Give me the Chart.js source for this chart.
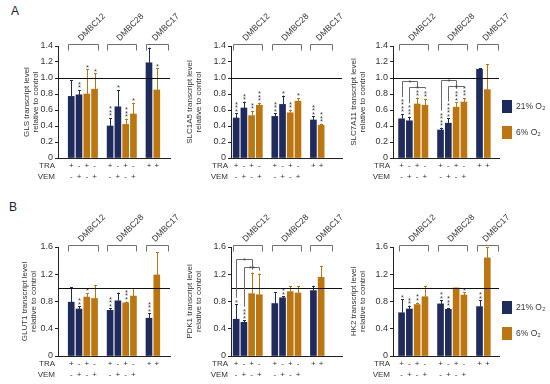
<!DOCTYPE html>
<html><head><meta charset="utf-8">
<script src="https://cdn.jsdelivr.net/npm/chart.js@4"></script>
<style>
body{margin:0;background:#fff;width:550px;height:384px;position:relative;overflow:hidden;font-family:Arial,"Liberation Sans",sans-serif;}
canvas{position:absolute;}
.lab{position:absolute;font-size:12px;line-height:12px;color:#222;}
</style></head><body>
<div class="lab" style="left:11px;top:5px">A</div>
<div class="lab" style="left:9px;top:201px">B</div>
<canvas id="a1"></canvas><canvas id="a2"></canvas><canvas id="a3"></canvas>
<canvas id="b1"></canvas><canvas id="b2"></canvas><canvas id="b3"></canvas>
<script>
// ---------- data ----------
const groups = ['DMBC12','DMBC28','DMBC17'];
const groupSpan = [[0,3],[5,8],[10,12]];
const traRow = ['+','-','+','-','','+','-','+','-','','+','+'];
const vemRow = ['-','+','-','+','','-','+','-','+','','',''];
const oxygen = ['21','21','6','6','','21','21','6','6','','21','6'];
const seriesLabels = ['21% O2','6% O2'];
const seriesKeys = ['21','6'];
const genes = ['GLS','SLC1A5','SLC7A11','GLUT1','PDK1','HK2'];
const ticksA = ['0','0.2','0.4','0.6','0.8','1.0','1.2','1.4'];
const ticksB = ['0','0.2','0.4','0.6','0.8','1.0','1.2','1.4','1.6'];
const ticksPDK1 = ['0','0.2','0.4','0.6','0.8','1','1.2','1.4','1.6'];

const glsValues = [0.77,0.79,0.80,0.86,null,0.40,0.64,0.42,0.55,null,1.19,0.85];
const glsErrors = [0.20,0.06,0.31,0.20,null,0.10,0.21,0.07,0.14,null,0.19,0.27];
const glsStars  = ['','**','*','*','','***','*','***','*','','','*'];

const slc1a5Values = [0.50,0.625,0.53,0.66,null,0.52,0.67,0.565,0.71,null,0.475,0.41];
const slc1a5Errors = [0.06,0.08,0.06,0.03,null,0.04,0.11,0.04,0.04,null,0.045,0.02];
const slc1a5Stars  = ['***','**','**','***','','***','*','**','*','','***','***'];

const slc7a11Values = [0.49,0.465,0.675,0.66,null,0.35,0.435,0.635,0.70,null,1.11,0.855];
const slc7a11Errors = [0.06,0.05,0.08,0.08,null,0.03,0.06,0.06,0.05,null,0.01,0.32];
const slc7a11Stars  = ['****','***','**','**','','****','****','***','***','','',''];
const slc7a11Sig = [[0,2,0.96,'*'],[1,3,0.89,'*'],[5,7,0.97,'*'],[6,8,0.895,'*']];

const glut1Values = [0.79,0.69,0.865,0.845,null,0.67,0.81,0.78,0.88,null,0.555,1.19];
const glut1Errors = [0.22,0.04,0.06,0.19,null,0.03,0.12,0.02,0.12,null,0.07,0.33];
const glut1Stars  = ['','**','*','','','***','','***','','','***',''];

const pdk1Values = [0.54,0.495,0.915,0.90,null,0.77,0.855,0.945,0.925,null,0.96,1.155];
const pdk1Errors = [0.22,0.03,0.31,0.31,null,0.17,0.02,0.08,0.10,null,0.07,0.17];
const pdk1Stars  = ['*','***','','','','','**','','','','',''];
const pdk1Sig = [[0,2,1.42,'*'],[1,3,1.30,'**']];

const hk2Values = [0.635,0.69,0.755,0.87,null,0.765,0.685,1.0,0.895,null,0.725,1.44];
const hk2Errors = [0.20,0.05,0.03,0.16,null,0.05,0.02,0.0,0.04,null,0.09,0.16];
const hk2Stars  = ['*','**','**','','','**','***','','*','','**',''];

// ---------- style / layout ----------
const NAVY = '#1f2b5c';
const ORANGE = '#bb7612';
const BAR_W = 6;
const FONT = 'Arial, "Liberation Sans", sans-serif';

const panels = [
  {id:'a1', gene:genes[0], values:glsValues, errors:glsErrors, stars:glsStars, sig:[], ticks:ticksA, ymax:1.4,
   box:[0,0,180,190], area:[58,46,170,158], xr:[-1.7,12.7], titleX:27, legend:false},
  {id:'a2', gene:genes[1], values:slc1a5Values, errors:slc1a5Errors, stars:slc1a5Stars, sig:[], ticks:ticksA, ymax:1.4,
   box:[180,0,165,190], area:[231,46,342,158], xr:[-0.67,13.7], titleX:190, legend:false},
  {id:'a3', gene:genes[2], values:slc7a11Values, errors:slc7a11Errors, stars:slc7a11Stars, sig:slc7a11Sig, ticks:ticksA, ymax:1.4,
   box:[345,0,205,190], area:[393,46,499,158], xr:[-1.1,12.5], titleX:354, legend:true},
  {id:'b1', gene:genes[3], values:glut1Values, errors:glut1Errors, stars:glut1Stars, sig:[], ticks:ticksB, ymax:1.6,
   box:[0,190,180,194], area:[58,247,170,356], xr:[-1.7,12.7], titleX:25, legend:false},
  {id:'b2', gene:genes[4], values:pdk1Values, errors:pdk1Errors, stars:pdk1Stars, sig:pdk1Sig, ticks:ticksPDK1, ymax:1.6,
   box:[180,190,165,194], area:[231,247,342,356], xr:[-0.67,13.7], titleX:190, legend:false},
  {id:'b3', gene:genes[5], values:hk2Values, errors:hk2Errors, stars:hk2Stars, sig:[], ticks:ticksB, ymax:1.6,
   box:[345,190,205,194], area:[393,247,499,356], xr:[-1.1,12.5], titleX:354, legend:true},
];

const STAR_STEP = 3.5;
function colorFor(i){ return oxygen[i]==='21' ? NAVY : ORANGE; }

function makeDeco(p){
  return {
    id:'deco_'+p.id,
    afterDatasetsDraw(chart){
      const ctx = chart.ctx, xs = chart.scales.x, ys = chart.scales.y, a = chart.chartArea;
      ctx.save();
      const starTop = [];
      p.values.forEach((v,i)=>{
        if (v==null) return;
        const col = colorFor(i);
        const x = Math.round(xs.getPixelForValue(i)) + 0.5;
        const yb = ys.getPixelForValue(v);
        const yt = ys.getPixelForValue(v + p.errors[i]);
        ctx.strokeStyle = col; ctx.lineWidth = 1;
        if (p.errors[i] > 0){
          ctx.beginPath(); ctx.moveTo(x, yb); ctx.lineTo(x, yt);
          ctx.moveTo(x-1.5, Math.round(yt)+0.5); ctx.lineTo(x+1.5, Math.round(yt)+0.5); ctx.stroke();
        }
        ctx.fillStyle = '#454545';
        ctx.font = '7.5px ' + FONT; ctx.textAlign = 'center'; ctx.textBaseline = 'alphabetic';
        const n = p.stars[i].length;
        for (let k=0;k<n;k++){
          const cy = yt - 2 - STAR_STEP*k - STAR_STEP/2;
          ctx.fillText('*', x, cy + 4.2);
        }
        starTop[i] = yt - 2 - STAR_STEP*n - 1;
      });
      const y1 = Math.round(ys.getPixelForValue(1)) + 0.5;
      ctx.strokeStyle = '#111'; ctx.lineWidth = 1;
      ctx.beginPath(); ctx.moveTo(a.left, y1); ctx.lineTo(a.right, y1); ctx.stroke();
      p.sig.forEach(([s,e,lvl,lab])=>{
        const xa = Math.round(xs.getPixelForValue(s))+0.5, xb = Math.round(xs.getPixelForValue(e))+0.5;
        const yl = Math.round(ys.getPixelForValue(lvl))+0.5;
        ctx.strokeStyle = '#6a6a6a'; ctx.lineWidth = 1;
        ctx.beginPath();
        const la = Math.max(starTop[s], yl), lb = Math.max(starTop[e], yl);
        ctx.moveTo(xa, la); ctx.lineTo(xa, yl); ctx.lineTo(xb, yl); ctx.lineTo(xb, lb);
        ctx.stroke();
        ctx.fillStyle = '#454545'; ctx.font = '7.5px ' + FONT; ctx.textAlign = 'center'; ctx.textBaseline = 'alphabetic';
        ctx.fillText(lab, (xa+xb)/2, yl + 3);
      });
      groups.forEach((g,gi)=>{
        const xL = Math.round(xs.getPixelForValue(groupSpan[gi][0]) - BAR_W/2)+0.5;
        const xR = Math.round(xs.getPixelForValue(groupSpan[gi][1]) + BAR_W/2)+0.5;
        const yT = a.top - 2 + 0.5;
        ctx.strokeStyle = '#707070'; ctx.lineWidth = 1;
        ctx.beginPath(); ctx.moveTo(xL, yT+6); ctx.lineTo(xL, yT); ctx.lineTo(xR, yT); ctx.lineTo(xR, yT+6); ctx.stroke();
        ctx.save();
        ctx.translate((xL+xR)/2 - 4, yT - 5);
        ctx.rotate(-Math.PI/4);
        ctx.fillStyle = '#333'; ctx.font = '8.5px ' + FONT; ctx.textAlign = 'left'; ctx.textBaseline = 'middle';
        ctx.fillText(g, 0, 0);
        ctx.restore();
      });
      ctx.fillStyle = '#333'; ctx.font = '8px ' + FONT; ctx.textBaseline = 'middle';
      const yTra = a.bottom + 8, yVem = a.bottom + 19;
      ctx.textAlign = 'right';
      ctx.fillText('TRA', a.left - 3, yTra);
      ctx.fillText('VEM', a.left - 3, yVem);
      ctx.textAlign = 'center';
      traRow.forEach((s,i)=>{ if(s) ctx.fillText(s, xs.getPixelForValue(i), yTra); });
      vemRow.forEach((s,i)=>{ if(s) ctx.fillText(s, xs.getPixelForValue(i), yVem); });
      if (p.legend){
        chart.data.datasets.forEach((d,j)=>{
          const sx = a.right + 3, sy = a.top + 54 + j*26;
          ctx.fillStyle = d.backgroundColor; ctx.fillRect(sx, sy, 10, 13);
          const lab = d.label, main = lab.slice(0,-1), sub = lab.slice(-1);
          ctx.fillStyle = '#333'; ctx.textAlign = 'left'; ctx.textBaseline = 'middle';
          ctx.font = '8.5px ' + FONT;
          ctx.fillText(main, sx + 14, sy + 6.5);
          const w = ctx.measureText(main).width;
          ctx.font = '5.5px ' + FONT;
          ctx.fillText(sub, sx + 14 + w + 0.3, sy + 8.5);
        });
      }
      ctx.restore();
    }
  };
}

panels.forEach(p=>{
  const cv = document.getElementById(p.id);
  const [cl, ct, cw, ch] = p.box;
  const [al, at, ar, ab] = p.area;
  cv.width = cw; cv.height = ch;
  cv.style.left = cl + 'px'; cv.style.top = ct + 'px';
  cv.style.width = cw + 'px'; cv.style.height = ch + 'px';
  const yw = al - cl;
  const titleFont = {size:8, family:FONT, lineHeight:1.1};
  const datasets = seriesKeys.map((k,j)=>({
    label: seriesLabels[j],
    backgroundColor: j===0 ? NAVY : ORANGE,
    grouped:false,
    barThickness: BAR_W,
    data: p.values.map((v,i)=> (v!=null && oxygen[i]===k) ? {x:i, y:v} : null).filter(d=>d)
  }));
  new Chart(cv, {
    type:'bar',
    data:{datasets},
    options:{
      responsive:false, animation:false, events:[],
      layout:{padding:{left:0, top:at-ct, right:(cl+cw)-ar, bottom:(ct+ch)-ab}},
      plugins:{legend:{display:false}, tooltip:{enabled:false}},
      scales:{
        x:{type:'linear', min:p.xr[0], max:p.xr[1], offset:false, bounds:'data', grace:0,
           grid:{display:false, drawTicks:false, offset:false}, ticks:{display:false, includeBounds:true},
           border:{display:true, color:'#222', width:1},
           afterFit(s){ s.height = 0; }},
        y:{min:0, max:p.ymax,
           grid:{display:true, drawOnChartArea:false, drawTicks:true, tickLength:3, color:'#222'},
           border:{display:true, color:'#222', width:1},
           ticks:{stepSize:0.2, padding:2, color:'#333', font:{size:9, family:FONT},
                  callback:(v,i)=>p.ticks[i]},
           title:{display:true, text:[p.gene+' transcript level','relative to control'], color:'#333',
                  font:titleFont, padding:{top:p.titleX - cl - 4.4, bottom:0}},
           afterFit(s){ s.width = yw; }}
      }
    },
    plugins:[makeDeco(p)]
  });
});
</script>
</body></html>
